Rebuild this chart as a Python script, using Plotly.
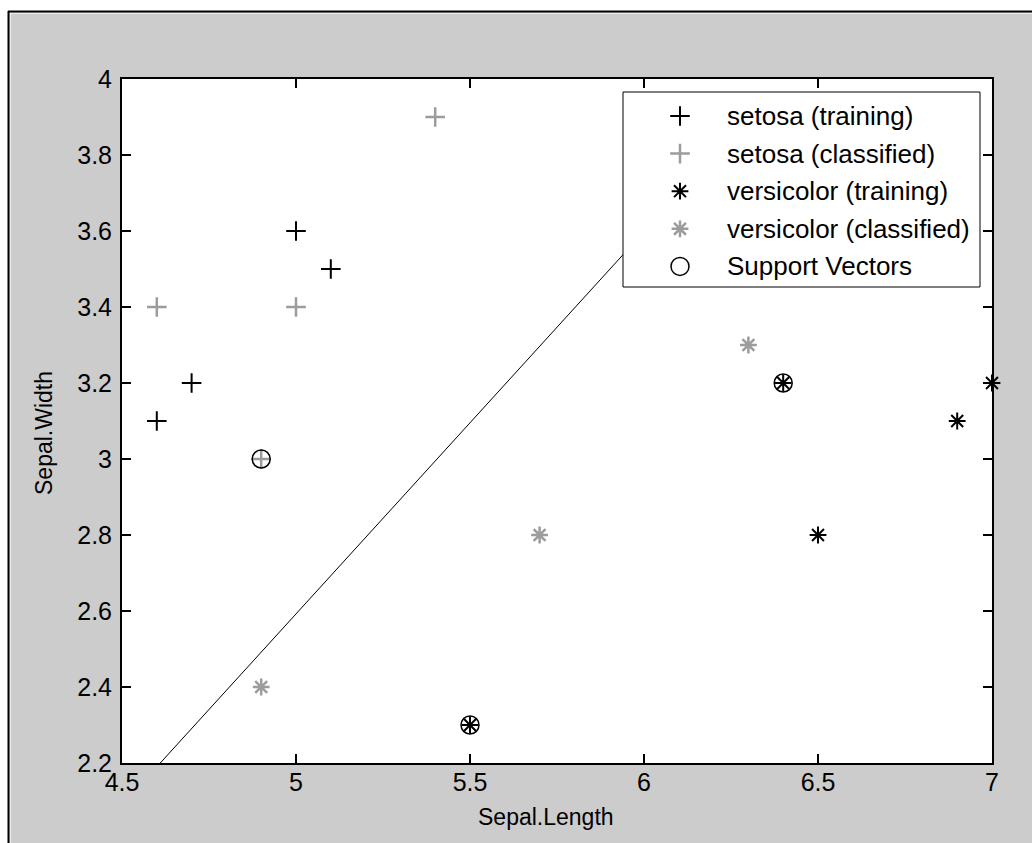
import plotly.graph_objects as go

# Iris subset: sepal length vs sepal width, SVM classification of setosa / versicolor
setosa_train_x = [5.0, 5.1, 4.7, 4.6]
setosa_train_y = [3.6, 3.5, 3.2, 3.1]
setosa_class_x = [5.4, 4.6, 5.0, 4.9]
setosa_class_y = [3.9, 3.4, 3.4, 3.0]
versi_train_x = [7.0, 6.9, 6.5, 6.4, 5.5]
versi_train_y = [3.2, 3.1, 2.8, 3.2, 2.3]
versi_class_x = [6.3, 5.7, 4.9]
versi_class_y = [3.3, 2.8, 2.4]
sv_x = [4.9, 6.4, 5.5]
sv_y = [3.0, 3.2, 2.3]
boundary_x = [4.61, 6.30]
boundary_y = [2.2, 3.9]

series_names = [
    "setosa (training)",
    "setosa (classified)",
    "versicolor (training)",
    "versicolor (classified)",
    "Support Vectors",
]

x_ticks = [4.5, 5.0, 5.5, 6.0, 6.5, 7.0]
x_tick_text = ["4.5", "5", "5.5", "6", "6.5", "7"]
y_ticks = [2.2, 2.4, 2.6, 2.8, 3.0, 3.2, 3.4, 3.6, 3.8, 4.0]
y_tick_text = ["2.2", "2.4", "2.6", "2.8", "3", "3.2", "3.4", "3.6", "3.8", "4"]

# ---- page geometry (pixels) ----
W, H = 1032, 843
L, R, T, B = 122, 40, 79, 80
PW = W - L - R
PH = H - T - B


def px(xp):
    return (xp - L) / PW


def py(yp):
    return (H - B - yp) / PH


FONT = "Liberation Sans, Arial, sans-serif"
BLACK = "#000000"
GREY = "#9c9c9c"

styles = [
    dict(symbol="cross-thin", size=14, color=BLACK, line=dict(color=BLACK, width=2)),
    dict(symbol="cross-thin", size=14, color=GREY, line=dict(color=GREY, width=2.5)),
    dict(symbol="asterisk", size=14, color=BLACK, line=dict(color=BLACK, width=2)),
    dict(symbol="asterisk", size=14, color=GREY, line=dict(color=GREY, width=2.5)),
    dict(symbol="circle-open", size=18, color=BLACK, line=dict(color=BLACK, width=1.5)),
]
series_xy = [
    (setosa_train_x, setosa_train_y),
    (setosa_class_x, setosa_class_y),
    (versi_train_x, versi_train_y),
    (versi_class_x, versi_class_y),
    (sv_x, sv_y),
]

fig = go.Figure()

# decision boundary
fig.add_trace(go.Scatter(
    x=boundary_x, y=boundary_y, mode="lines",
    line=dict(color=BLACK, width=1), showlegend=False, hoverinfo="skip",
))

for name, (xs, ys), st in zip(series_names, series_xy, styles):
    fig.add_trace(go.Scatter(
        x=xs, y=ys, mode="markers", name=name, marker=st,
        cliponaxis=False, showlegend=False,
    ))

# ---- legend box drawn on a pixel-unit overlay axis ----
box_l, box_r, box_t, box_b = 623, 980, 92, 287
fig.add_trace(go.Scatter(
    x=[box_l, box_r, box_r, box_l, box_l],
    y=[box_t, box_t, box_b, box_b, box_t],
    xaxis="x2", yaxis="y2", mode="lines", fill="toself",
    fillcolor="white", line=dict(color=BLACK, width=1),
    showlegend=False, hoverinfo="skip",
))
row0, row_step, sym_x, txt_x = 116, 37.6, 680, 725
annotations = []
for i, (name, st) in enumerate(zip(series_names, styles)):
    ry = row0 + i * row_step
    fig.add_trace(go.Scatter(
        x=[sym_x], y=[ry], xaxis="x2", yaxis="y2", mode="markers",
        marker=st, showlegend=False, hoverinfo="skip", cliponaxis=False,
    ))
    annotations.append(dict(
        x=txt_x, y=ry, xref="x2", yref="y2", text=name, showarrow=False,
        xanchor="left", yanchor="middle",
        font=dict(family=FONT, size=26, color=BLACK),
    ))

# axis titles
annotations.append(dict(
    x=px(546), y=py(817), xref="paper", yref="paper", text="Sepal.Length",
    showarrow=False, xanchor="center", yanchor="middle",
    font=dict(family=FONT, size=23, color=BLACK),
))
annotations.append(dict(
    x=px(44), y=py(433), xref="paper", yref="paper", text="Sepal.Width",
    showarrow=False, xanchor="center", yanchor="middle", textangle=-90,
    font=dict(family=FONT, size=23, color=BLACK),
))

axis_common = dict(
    ticks="inside", ticklen=9, tickwidth=1.5, tickcolor=BLACK,
    showline=True, linecolor=BLACK, linewidth=2, mirror="ticks",
    showgrid=False, zeroline=False,
    tickfont=dict(family=FONT, size=25, color=BLACK),
)

# figure window frame: white outside, black edge, light inner highlight
shapes = [
    dict(type="rect", xref="paper", yref="paper", x0=px(-5), x1=px(8), y0=py(H + 5), y1=py(-5),
         fillcolor="white", line=dict(width=0), layer="below"),
    dict(type="rect", xref="paper", yref="paper", x0=px(-5), x1=px(W + 5), y0=py(11), y1=py(-5),
         fillcolor="white", line=dict(width=0), layer="below"),
    dict(type="line", xref="paper", yref="paper", x0=px(9), x1=px(W + 5), y0=py(13.5), y1=py(13.5),
         line=dict(color="#ececec", width=1)),
    dict(type="line", xref="paper", yref="paper", x0=px(10.5), x1=px(10.5), y0=py(12), y1=py(H + 5),
         line=dict(color="#ececec", width=1)),
    dict(type="line", xref="paper", yref="paper", x0=px(8), x1=px(W + 5), y0=py(11.5), y1=py(11.5),
         line=dict(color=BLACK, width=2)),
    dict(type="line", xref="paper", yref="paper", x0=px(8.5), x1=px(8.5), y0=py(11), y1=py(H + 5),
         line=dict(color=BLACK, width=2)),
]

fig.update_layout(
    width=W, height=H, autosize=False,
    margin=dict(l=L, r=R, t=T, b=B, pad=0),
    paper_bgcolor="#cccccc", plot_bgcolor="white",
    showlegend=False,
    xaxis=dict(range=[4.5, 7.0], tickvals=x_ticks, ticktext=x_tick_text,
               ticklabelstandoff=-4, **axis_common),
    yaxis=dict(range=[2.2, 4.0], tickvals=y_ticks, ticktext=y_tick_text,
               ticklabelstandoff=3, **axis_common),
    xaxis2=dict(overlaying="x", anchor="y2", range=[L, W - R], visible=False, fixedrange=True),
    yaxis2=dict(overlaying="y", anchor="x2", range=[H - B, T], visible=False, fixedrange=True),
    annotations=annotations,
    shapes=shapes,
)

fig.write_html("out.html")
